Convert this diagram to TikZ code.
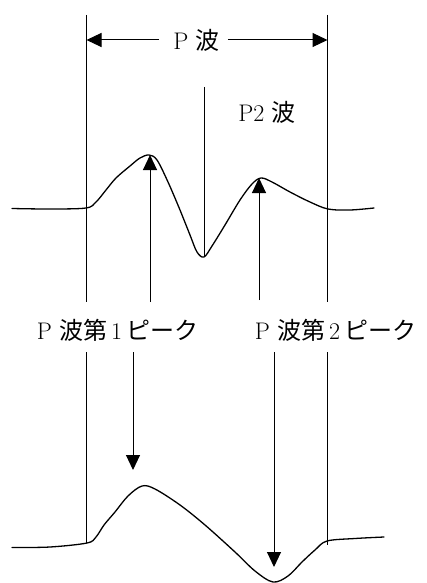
\documentclass[tikz,border=0pt]{standalone}
\usepackage{fontspec}
\newfontfamily\cjk{Noto Sans CJK JP}
\usetikzlibrary{arrows.meta}
\begin{document}
\begin{tikzpicture}[x=1pt,y=-1pt,
  vline/.style={line width=1pt},
  wave/.style={line width=1.3pt, line join=round, line cap=round},
  arr/.style={line width=1pt,-{Triangle[length=15pt,width=14pt]}},
  lbl/.style={font=\fontsize{24}{27}\selectfont, inner sep=0pt}]
\useasboundingbox (0,0) rectangle (427,583);
% labels
\node[lbl] (pw) at (196.5,40) {P {\cjk 波}};
\node[lbl] (p2) at (267,112) {P2 {\cjk 波}};
\node[lbl] (pk1) at (117.5,330) {P {\cjk 波第}\,1\,{\cjk ピーク}};
\node[lbl] (pk2) at (335.5,330) {P {\cjk 波第}\,2\,{\cjk ピーク}};
% boundary lines
\coordinate (Ltop) at (86.5,15);
\coordinate (La) at (86.5,302);
\coordinate (Lb) at (86.5,352);
\coordinate (Lbot) at (86.5,543);
\coordinate (Rtop) at (327.5,15);
\coordinate (Ra) at (327.5,302);
\coordinate (Rb) at (327.5,352);
\coordinate (Rbot) at (327.5,545);
\draw[vline] (Ltop) -- (La) (Lb) -- (Lbot);
\draw[vline] (Rtop) -- (Ra) (Rb) -- (Rbot);
% P wave span arrows
\draw[arr] ([xshift=-14pt]pw.west) -- (Ltop |- pw);
\draw[arr] ([xshift=8pt]pw.east) -- (Rtop |- pw);
% middle line
\coordinate (mtop) at (204,87);
\coordinate (trough) at (204,257);
\draw[vline] (mtop) -- (trough);
% peaks
\coordinate (pk1top) at (150,155);
\coordinate (pk2top) at (259,178);
\coordinate (pk1s) at (150,302);
\coordinate (pk2s) at (259,300);
\draw[arr] (pk1s) -- (pk1top);
\draw[arr] (pk2s) -- (pk2top);
% down arrows
\coordinate (d1s) at (133,352);
\coordinate (d1e) at (133,470);
\coordinate (d2s) at (274,352);
\coordinate (d2e) at (274,567);
\draw[arr] (d1s) -- (d1e);
\draw[arr] (d2s) -- (d2e);
% top waveform
\draw[wave] plot[smooth, tension=0.55] coordinates {
 (12,208.5) (50,209) (86,208) (96,202) (106,190) (116,178) (130,166) (140,158) (149,155)
 (157,160) (168,182) (180,210) (190,235) (197,252) (204,257)
 (212,246) (225,225) (240,200) (252,184) (261,178) (272,182) (290,192) (310,202) (328,209)
 (350,210) (374,208)};
% bottom waveform
\draw[wave] plot[smooth, tension=0.55] coordinates {
 (12,547.5) (50,547) (87,543) (96,537) (104,525) (115,512) (128,496) (142,486)
 (155,489) (180,505) (205,525) (235,552) (255,571) (273,582)
 (288,576) (302,562) (315,550) (327,541) (355,538.5) (384,537)};
\end{tikzpicture}
\end{document}
